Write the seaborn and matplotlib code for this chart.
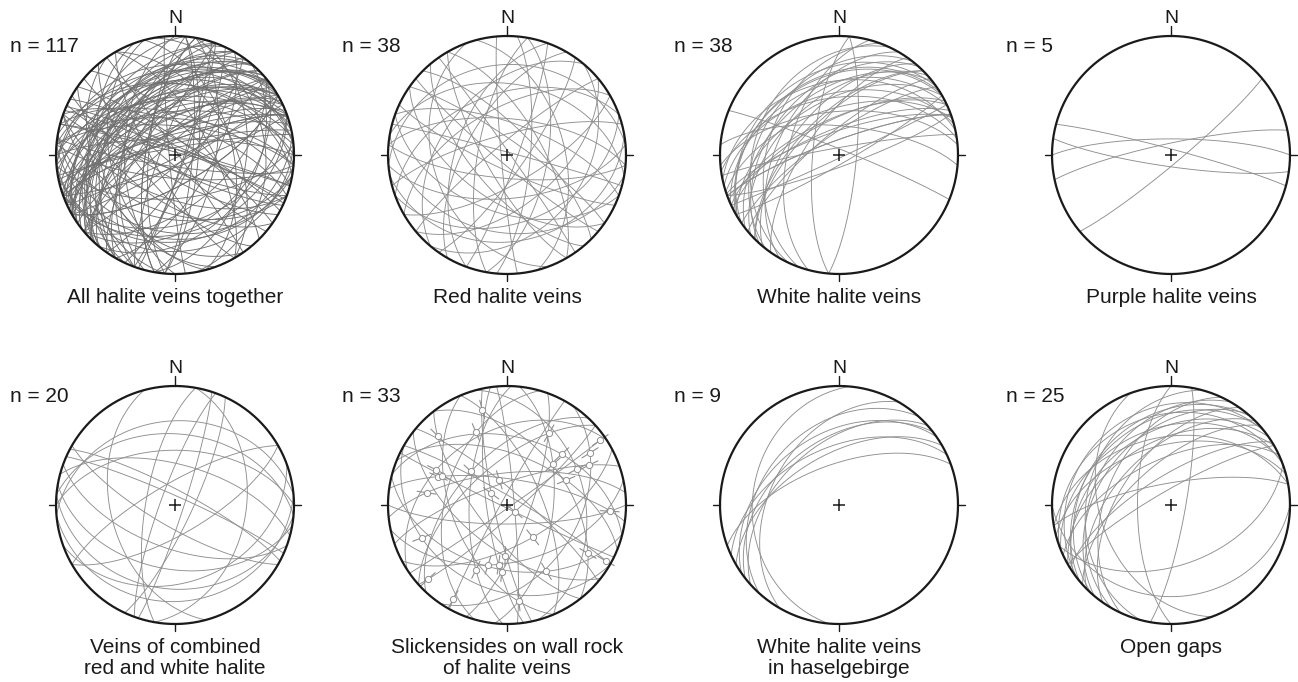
import numpy as np
import pandas as pd
import matplotlib
matplotlib.use("Agg")
import matplotlib.pyplot as plt
import seaborn as sns

# planes as dip direction / dip (degrees), lower hemisphere
red_dd = [265, 355, 10, 190, 200, 175, 160, 150, 140, 125, 35, 45, 220, 230, 240, 300, 310, 320, 330, 15,
          60, 75, 95, 110, 250, 280, 290, 340, 5, 185, 170, 130, 215, 20, 55, 205, 345, 100]
red_dip = [86, 25, 40, 35, 50, 60, 42, 70, 55, 78, 80, 72, 84, 66, 75, 62, 45, 82, 58, 88,
           66, 50, 74, 83, 38, 70, 55, 47, 65, 74, 28, 35, 58, 68, 88, 80, 76, 62]

white_dd = [340, 338, 335, 342, 330, 345, 336, 328, 341, 333, 320, 315, 318, 312, 308, 325, 322, 310, 305, 300,
            350, 355, 348, 352, 160, 155, 150, 22, 95, 275, 290, 295, 285, 330, 340, 325, 315, 5]
white_dip = [80, 72, 65, 58, 52, 47, 40, 34, 74, 66, 75, 62, 50, 42, 35, 30, 45, 57, 68, 48,
             85, 60, 38, 50, 82, 88, 84, 86, 78, 72, 40, 30, 55, 35, 80, 76, 64, 70]

purple_dd = [140, 15, 188, 0, 348]
purple_dip = [84, 86, 82, 79, 82]

comb_dd = [0, 5, 355, 15, 190, 185, 175, 200, 24, 28, 108, 115, 290, 280, 255, 100, 150, 330, 160, 210]
comb_dip = [52, 40, 30, 62, 45, 30, 20, 60, 84, 80, 84, 78, 80, 70, 45, 40, 70, 75, 35, 75]

slick_dd = [8, 22, 40, 52, 67, 85, 96, 110, 124, 138, 152, 168, 180, 194, 206, 218, 232, 247, 258, 272,
            286, 299, 313, 327, 341, 354, 15, 75, 145, 210, 262, 318, 30]
slick_dip = [72, 55, 80, 48, 66, 85, 58, 74, 40, 83, 62, 50, 77, 45, 88, 60, 70, 52, 81, 64,
             47, 86, 56, 38, 75, 68, 42, 35, 88, 30, 76, 63, 84]
slick_pitch = [40, 120, 75, 150, 20, 95, 60, 135, 30, 170, 85, 110, 15, 55, 140, 70, 160, 25, 100, 45,
               130, 10, 90, 65, 155, 35, 115, 80, 5, 125, 50, 145, 175]

hasel_dd = [325, 318, 330, 340, 312, 322, 335, 300, 275]
hasel_dip = [40, 48, 55, 62, 35, 45, 50, 42, 28]

open_dd = [320, 325, 330, 315, 335, 340, 310, 318, 328, 345, 300, 305, 322, 338, 350, 312, 295, 270, 160, 180,
           100, 350, 250, 330, 285]
open_dip = [30, 38, 45, 52, 58, 25, 40, 62, 70, 48, 35, 55, 20, 35, 42, 28, 45, 67, 48, 24,
            80, 75, 40, 80, 30]

other_dd = [60, 120, 235, 200, 80, 270, 140]
other_dip = [50, 65, 35, 80, 25, 55, 40]

all_dd = red_dd + white_dd + purple_dd + comb_dd + hasel_dd + other_dd
all_dip = red_dip + white_dip + purple_dip + comb_dip + hasel_dip + other_dip

titles = [["All halite veins together"], ["Red halite veins"], ["White halite veins"], ["Purple halite veins"],
          ["Veins of combined", "red and white halite"], ["Slickensides on wall rock", "of halite veins"],
          ["White halite veins", "in haselgebirge"], ["Open gaps"]]
panels = [(all_dd, all_dip), (red_dd, red_dip), (white_dd, white_dip), (purple_dd, purple_dip),
          (comb_dd, comb_dip), (slick_dd, slick_dip), (hasel_dd, hasel_dip), (open_dd, open_dip)]


def plane_vectors(dd, dip, t_deg):
    t = np.radians(np.atleast_1d(t_deg))
    a, d = np.radians(dd), np.radians(dip)
    s = a - np.pi / 2
    sv = np.array([np.sin(s), np.cos(s), 0.0])
    dv = np.array([np.sin(a) * np.cos(d), np.cos(a) * np.cos(d), np.sin(d)])
    return np.outer(np.cos(t), sv) + np.outer(np.sin(t), dv)


def schmidt(v):
    # equal-area (Schmidt) projection, lower hemisphere
    plunge = np.arcsin(np.clip(v[:, 2], -1, 1))
    trend = np.arctan2(v[:, 0], v[:, 1])
    r = np.sqrt(2) * np.sin((np.pi / 2 - plunge) / 2)
    return r * np.sin(trend), r * np.cos(trend)


def circles_df(dds, dips):
    rows = []
    for i, (dd, dip) in enumerate(zip(dds, dips)):
        x, y = schmidt(plane_vectors(dd, dip, np.linspace(0, 180, 181)))
        rows.append(pd.DataFrame({"x": x, "y": y, "plane": i}))
    return pd.concat(rows, ignore_index=True)


W, H = 1298, 682
R = 119
L = 1.3
centers = [(175, 155), (507, 155), (839, 155), (1171, 155),
           (175, 505), (507, 505), (839, 505), (1171, 505)]

sns.set_style("white")
plt.rcParams["font.family"] = ["Liberation Sans", "DejaVu Sans"]
fig = plt.figure(figsize=(W / 100, H / 100), dpi=100)

for k, ((dds, dips), (cx, cy)) in enumerate(zip(panels, centers)):
    ax = fig.add_axes([(cx - L * R) / W, (H - cy - L * R) / H, 2 * L * R / W, 2 * L * R / H])
    df = circles_df(dds, dips)
    col = "#707070" if k == 0 else "#8f8f8f"
    sns.lineplot(data=df, x="x", y="y", units="plane", estimator=None, sort=False,
                 color=col, lw=0.65, ax=ax, legend=False, zorder=1)

    if k == 5:
        lx, ly = [], []
        seg = []
        for i, (dd, dip, p) in enumerate(zip(slick_dd, slick_dip, slick_pitch)):
            x, y = schmidt(plane_vectors(dd, dip, p))
            lx.append(x[0]); ly.append(y[0])
            rr = np.hypot(x[0], y[0])
            ux, uy = (x[0] / rr, y[0] / rr) if rr > 1e-6 else (0.0, 1.0)
            seg.append(pd.DataFrame({"x": [x[0] - 0.08 * ux, x[0] + 0.08 * ux],
                                     "y": [y[0] - 0.08 * uy, y[0] + 0.08 * uy], "plane": i}))
        sdf = pd.concat(seg, ignore_index=True)
        sns.lineplot(data=sdf, x="x", y="y", units="plane", estimator=None, sort=False,
                     color="#8f8f8f", lw=0.8, ax=ax, legend=False, zorder=2)
        sns.scatterplot(x=lx, y=ly, ax=ax, s=20, marker="o", facecolor="white",
                        edgecolor="#8f8f8f", linewidth=0.7, zorder=3, legend=False)

    th = np.linspace(0, 2 * np.pi, 400)
    ax.plot(np.cos(th), np.sin(th), color="#1a1a1a", lw=1.6, zorder=4)
    ax.plot([0, 0], [1, 1.08], color="#1a1a1a", lw=1, zorder=4)
    ax.plot([0, 0], [-1, -1.06], color="#1a1a1a", lw=1, zorder=4)
    ax.plot([1, 1.06], [0, 0], color="#1a1a1a", lw=1, zorder=4)
    ax.plot([-1, -1.06], [0, 0], color="#1a1a1a", lw=1, zorder=4)
    ax.plot([0], [0], marker="+", ms=9, mew=1.1, color="#1a1a1a", zorder=5)

    ax.text(0, 1.15, "N", ha="center", va="center", fontsize=14, color="#1a1a1a")
    ax.text(-1.39, 0.91, f"n = {len(dds)}", ha="left", va="center", fontsize=15, color="#1a1a1a")
    for j, line in enumerate(titles[k]):
        ax.text(0, -1.244 - j * 21 / R, line, ha="center", va="baseline", fontsize=15, color="#1a1a1a")

    ax.set_xlim(-L, L)
    ax.set_ylim(-L, L)
    ax.set_aspect("equal")
    ax.axis("off")

fig.savefig("out.png", dpi=100, facecolor="white")
